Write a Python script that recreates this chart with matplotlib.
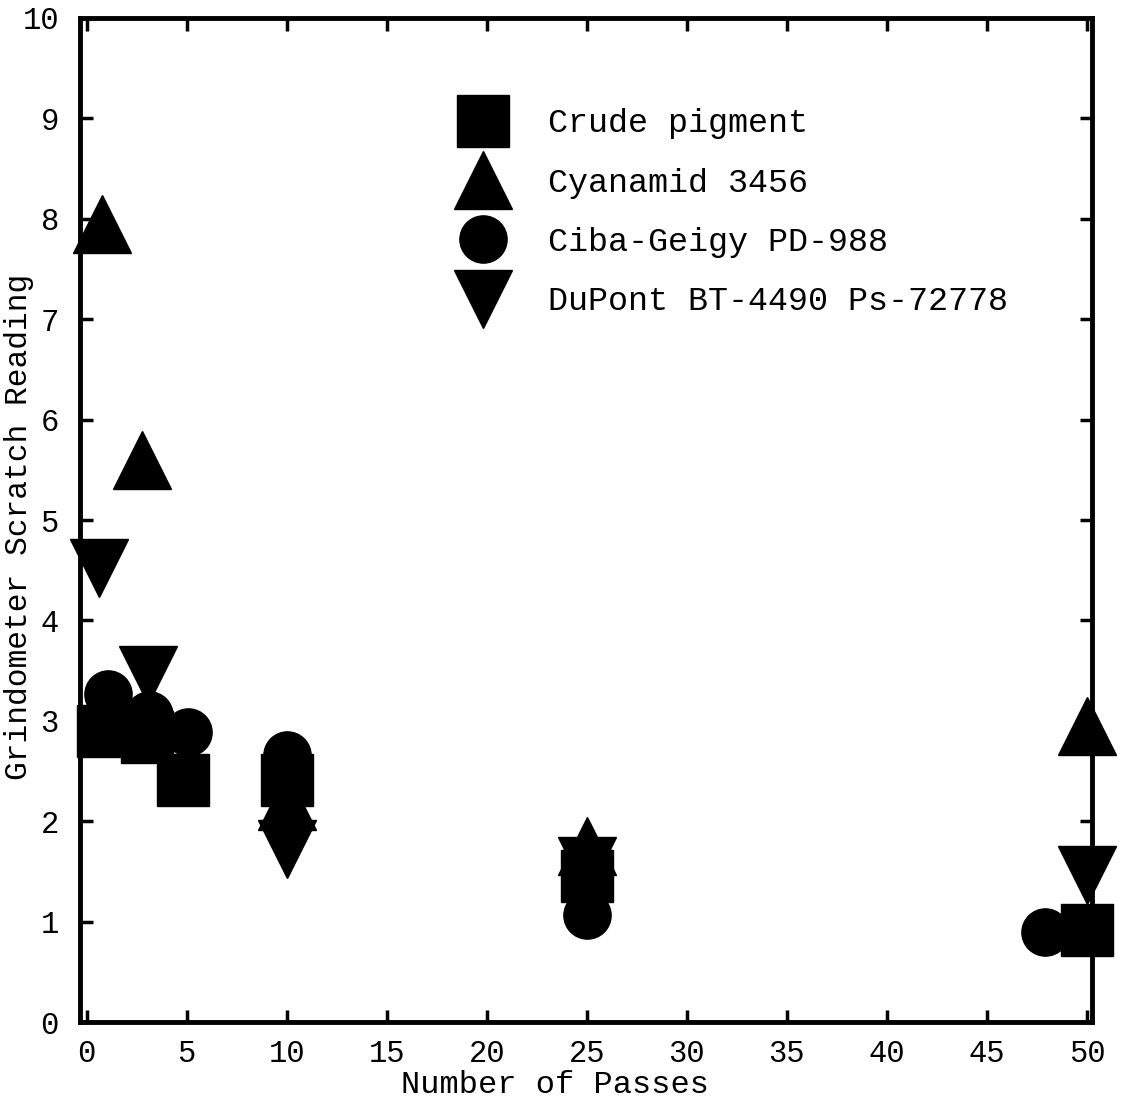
import matplotlib.pyplot as plt

plt.rcParams['font.family'] = ['Liberation Mono', 'DejaVu Sans Mono']

# Data
crude_x = [0.8, 3.0, 4.8, 10, 25, 50]
crude_y = [2.9, 2.84, 2.41, 2.41, 1.45, 0.92]

cyan_x = [0.75, 2.75, 10, 25, 50]
cyan_y = [7.95, 5.6, 2.2, 1.75, 2.95]

ciba_x = [1.05, 3.1, 5.05, 10, 25, 47.9]
ciba_y = [3.27, 3.06, 2.89, 2.66, 1.07, 0.9]

dupont_x = [0.6, 3.05, 10, 25, 50]
dupont_y = [4.52, 3.46, 1.72, 1.55, 1.46]

labels = ["Crude pigment", "Cyanamid 3456", "Ciba-Geigy PD-988",
          "DuPont BT-4490 Ps-72778"]

x_ticks = [0, 5, 10, 15, 20, 25, 30, 35, 40, 45, 50]
y_ticks = [0, 1, 2, 3, 4, 5, 6, 7, 8, 9, 10]

fig = plt.figure(figsize=(11.21, 11.03), dpi=100)
ax = fig.add_axes([0.071, 0.0734, 0.903, 0.9103])

ax.plot(crude_x, crude_y, 's', color='black', markersize=38, clip_on=False,
        label=labels[0])
ax.plot(cyan_x, cyan_y, '^', color='black', markersize=42, clip_on=False,
        label=labels[1])
ax.plot(ciba_x, ciba_y, 'o', color='black', markersize=34, clip_on=False,
        label=labels[2])
ax.plot(dupont_x, dupont_y, 'v', color='black', markersize=42, clip_on=False,
        label=labels[3])

ax.set_xlim(-0.35, 50.25)
ax.set_ylim(0, 10)
ax.set_xticks(x_ticks)
ax.set_yticks(y_ticks)

for sp in ax.spines.values():
    sp.set_linewidth(3.5)

ax.tick_params(direction='in', length=9, width=2.5, top=True, right=True,
               labelsize=22)
ax.tick_params(axis='x', pad=12)
ax.tick_params(axis='y', pad=15)

ax.set_xlabel("Number of Passes", fontsize=23, va='center')
ax.set_ylabel("Grindometer Scratch Reading", fontsize=22.5, va='center')
ax.xaxis.set_label_coords(0.47, -0.063)
ax.yaxis.set_label_coords(-0.06, 0.493)

leg = ax.legend(loc='upper left', bbox_to_anchor=(0.349, 0.94), frameon=False,
                fontsize=24, markerscale=1.0, handlelength=1.2,
                handletextpad=1.35, labelspacing=0.85, numpoints=1)

fig.savefig("out.png", dpi=100)
